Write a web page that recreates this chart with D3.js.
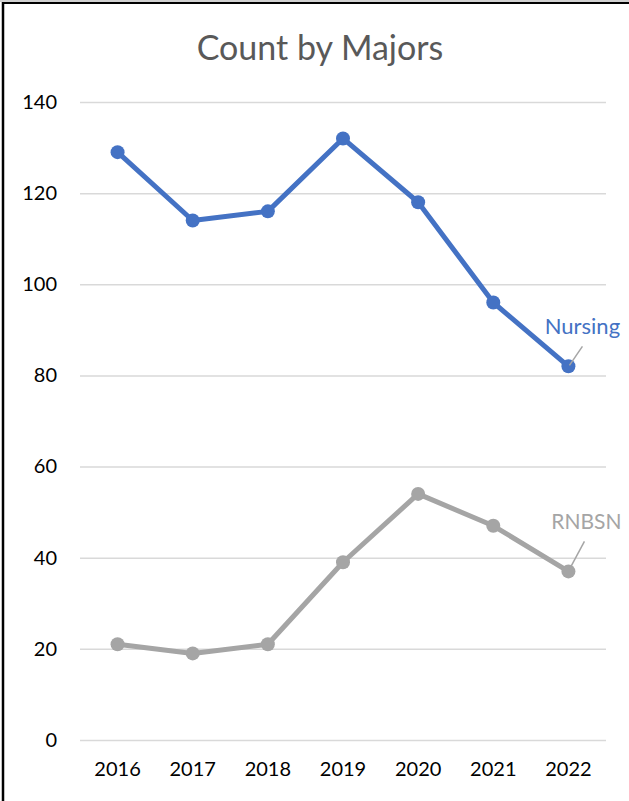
<!DOCTYPE html>
<html><head><meta charset="utf-8">
<script src="https://cdn.jsdelivr.net/npm/d3@7"></script>
<style>body{margin:0;background:#fff}svg{display:block}</style>
</head><body>
<svg id="c" width="629" height="801"></svg>
<script>
const years = ["2016","2017","2018","2019","2020","2021","2022"];
const nursing = [129,114,116,132,118,96,82];
const rnbsn = [21,19,21,39,54,47,37];
const yTicks = [0,20,40,60,80,100,120,140];

const svg = d3.select("#c");
const font = "Lato, 'Open Sans', sans-serif";
// border
svg.append("rect").attr("x",0).attr("y",0).attr("width",629).attr("height",2).attr("fill","#d0d0d0");
svg.append("line").attr("x1",3).attr("x2",629).attr("y1",3).attr("y2",3).attr("stroke","#000").attr("stroke-width",2);
svg.append("line").attr("x1",3).attr("x2",3).attr("y1",2).attr("y2",801).attr("stroke","#000").attr("stroke-width",2.5);

const x = d3.scaleBand().domain(years).range([80,606]);
const y = d3.scaleLinear().domain([0,140]).range([740,102]);

svg.append("text").attr("x",320).attr("y",60).attr("text-anchor","middle")
  .attr("font-family",font).attr("font-size",34).attr("fill","#595959").text("Count by Majors");

const yAxis = svg.append("g").attr("transform","translate(80,0)")
  .call(d3.axisLeft(y).tickValues(yTicks).tickSize(-526).tickPadding(23));
yAxis.select(".domain").remove();
yAxis.selectAll("line").attr("stroke","#d9d9d9").attr("stroke-width",1.5);
yAxis.selectAll("text").attr("font-family",font).attr("font-size",20).attr("fill","#000");

const xAxis = svg.append("g").attr("transform","translate(0,740)")
  .call(d3.axisBottom(x).tickSize(0).tickPadding(22));
xAxis.select(".domain").remove();
xAxis.selectAll("text").attr("font-family",font).attr("font-size",20).attr("fill","#000");

const cx = d => x(d) + x.bandwidth()/2;
function series(vals, color){
  const pts = vals.map((v,i)=>[cx(years[i]), y(v)]);
  svg.append("path").attr("d", d3.line()(pts)).attr("fill","none")
    .attr("stroke",color).attr("stroke-width",5).attr("stroke-linejoin","round").attr("stroke-linecap","round");
  svg.selectAll(null).data(pts).enter().append("circle")
    .attr("cx",d=>d[0]).attr("cy",d=>d[1]).attr("r",7).attr("fill",color);
  return pts;
}
const pN = series(nursing,"#4472C4");
const pR = series(rnbsn,"#A5A5A5");

// labels
const lastN = pN[pN.length-1], lastR = pR[pR.length-1];
svg.append("line").attr("x1",lastN[0]+1).attr("y1",lastN[1]-1).attr("x2",lastN[0]+14).attr("y2",lastN[1]-20)
  .attr("stroke","#A5A5A5").attr("stroke-width",1.5);
svg.append("text").attr("x",lastN[0]+14).attr("y",lastN[1]-32).attr("text-anchor","middle")
  .attr("font-family",font).attr("font-size",22).attr("fill","#4472C4").text("Nursing");
svg.append("line").attr("x1",lastR[0]+1).attr("y1",lastR[1]-2).attr("x2",lastR[0]+16).attr("y2",lastR[1]-30)
  .attr("stroke","#A5A5A5").attr("stroke-width",1.5);
svg.append("text").attr("x",lastR[0]+18).attr("y",lastR[1]-42).attr("text-anchor","middle")
  .attr("font-family",font).attr("font-size",21).attr("fill","#A5A5A5").text("RNBSN");
</script>
</body></html>
